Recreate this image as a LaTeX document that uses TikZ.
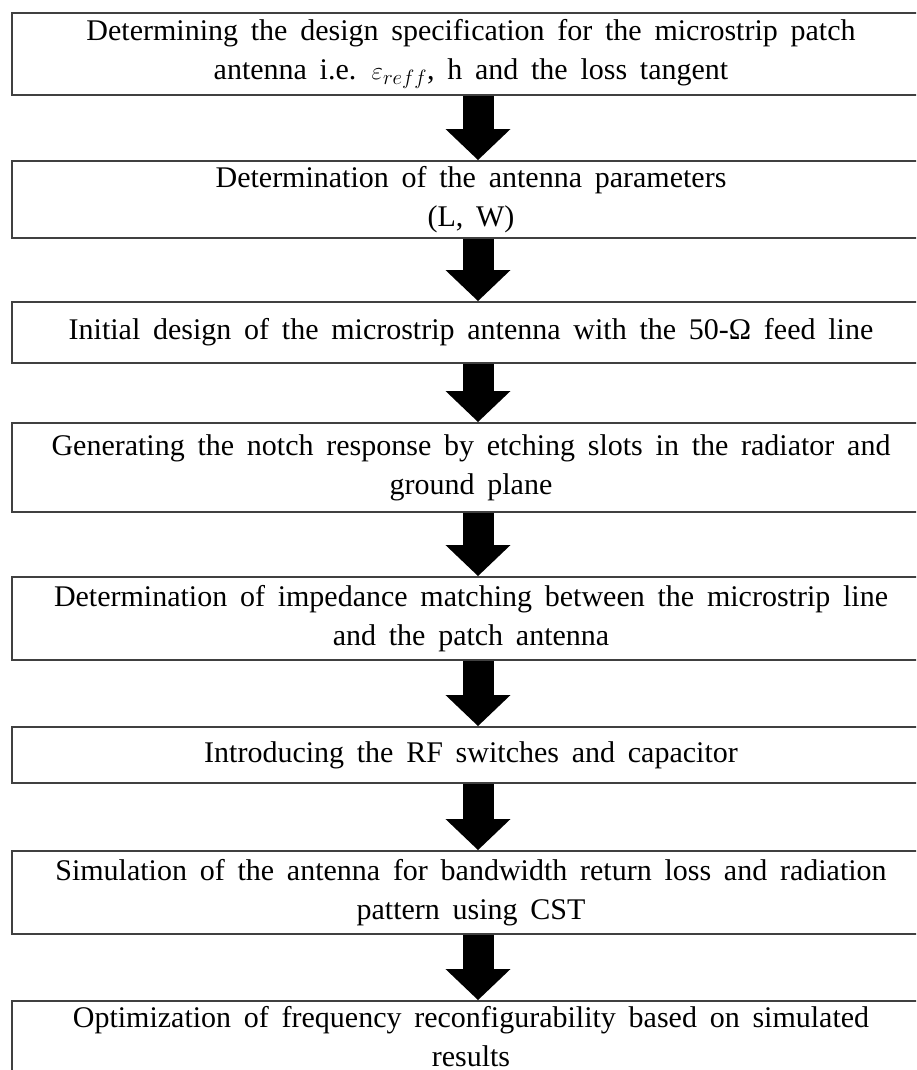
\documentclass[tikz,border=0pt]{standalone}
\usepackage{fontspec}
\setmainfont{Liberation Serif}[WordSpace=1.7]
\usetikzlibrary{arrows.meta}
\begin{document}
\begin{tikzpicture}[x=1pt,y=-1pt]
	\tikzstyle{boite}=[draw=black!75,line width=1.8pt,minimum width=918pt,align=center,inner sep=2pt,font=\fontsize{30}{39}\selectfont]
	\tikzstyle{fleche}=[line width=31pt,-{Triangle[width=63pt,length=31pt]}]
	\def\AbscisseBoites{471}
	\def\DecalageFleche{7pt}
	\useasboundingbox (0,0) rectangle (916,1070);
	\clip (0,0) rectangle (916,1070);
	\node[boite,minimum height=82pt] (Ea) at (\AbscisseBoites,54) {Determining the design specification for the microstrip patch\\antenna i.e. $\varepsilon_{reff}$, h and the loss tangent};
	\node[boite,minimum height=77pt] (Eb) at (\AbscisseBoites,199.5) {Determination of the antenna parameters\\(L, W)};
	\node[boite,minimum height=61pt] (Ec) at (\AbscisseBoites,332.5) {Initial design of the microstrip antenna with the 50-Ω feed line};
	\node[boite,minimum height=89pt] (Ed) at (\AbscisseBoites,467.5) {Generating the notch response by etching slots in the radiator and\\ground plane};
	\node[boite,minimum height=83pt] (Ee) at (\AbscisseBoites,618.5) {Determination of impedance matching between the microstrip line\\and the patch antenna};
	\node[boite,minimum height=56pt] (Ef) at (\AbscisseBoites,755) {Introducing the RF switches and capacitor};
	\node[boite,minimum height=83pt] (Eg) at (\AbscisseBoites,892.5) {Simulation of the antenna for bandwidth return loss and radiation\\pattern using CST};
	\node[boite,minimum height=72pt] (Eh) at (\AbscisseBoites,1037) {Optimization of frequency reconfigurability based on simulated\\results};
	\draw[fleche] ([xshift=\DecalageFleche]Ea.south)--([xshift=\DecalageFleche]Eb.north);
	\draw[fleche] ([xshift=\DecalageFleche]Eb.south)--([xshift=\DecalageFleche]Ec.north);
	\draw[fleche] ([xshift=\DecalageFleche]Ec.south)--([xshift=\DecalageFleche]Ed.north);
	\draw[fleche] ([xshift=\DecalageFleche]Ed.south)--([xshift=\DecalageFleche]Ee.north);
	\draw[fleche] ([xshift=\DecalageFleche]Ee.south)--([xshift=\DecalageFleche]Ef.north);
	\draw[fleche] ([xshift=\DecalageFleche]Ef.south)--([xshift=\DecalageFleche]Eg.north);
	\draw[fleche] ([xshift=\DecalageFleche]Eg.south)--([xshift=\DecalageFleche]Eh.north);
\end{tikzpicture}
\end{document}
